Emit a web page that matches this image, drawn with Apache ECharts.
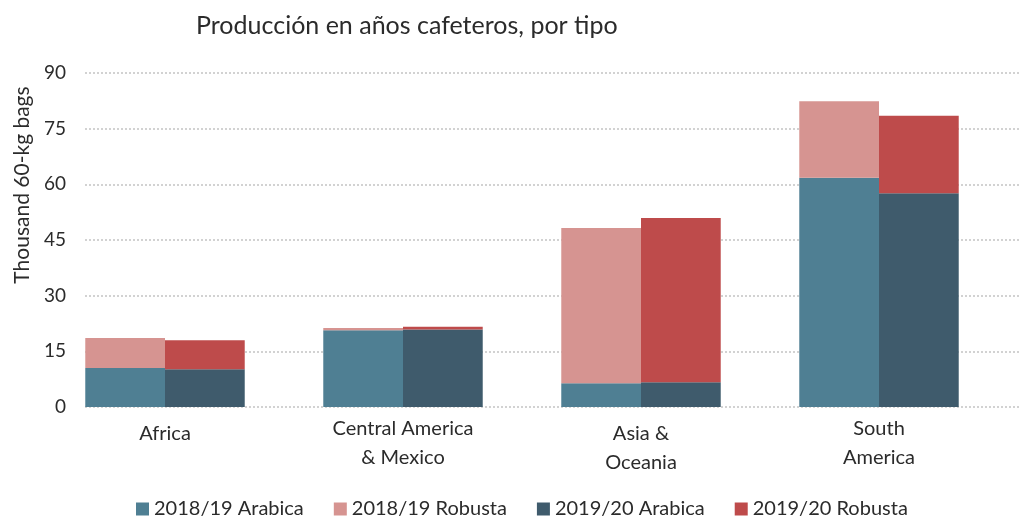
<!DOCTYPE html>
<html>
<head>
<meta charset="utf-8">
<script src="https://cdn.jsdelivr.net/npm/echarts@6/dist/echarts.min.js"></script>
<style>html,body{margin:0;padding:0;background:#fff}#c{width:1026px;height:520px}</style>
</head>
<body>
<div id="c"></div>
<script>
var categories = ['Africa', 'Central America\n& Mexico', 'Asia &\nOceania', 'South\nAmerica'];
var yTicks = [0, 15, 30, 45, 60, 75, 90];
var arabica1819 = [10.5, 20.7, 6.4, 61.8];
var robusta1819 = [8.1, 0.6, 41.8, 20.6];
var arabica1920 = [10.2, 20.9, 6.7, 57.6];
var robusta1920 = [7.8, 0.7, 44.2, 20.9];
var seriesNames = ['2018/19 Arabica', '2018/19 Robusta', '2019/20 Arabica', '2019/20 Robusta'];

var FONT = 'Lato';
var TXT = '#2b2b2b';
var chart = echarts.init(document.getElementById('c'), null, {renderer: 'canvas'});
chart.setOption({
  animation: false,
  textStyle: {fontFamily: FONT},
  title: {
    text: 'Producción en años cafeteros, por tipo',
    left: 191, top: 8,
    textStyle: {fontFamily: FONT, fontSize: 25, fontWeight: 'normal', color: TXT}
  },
  legend: {
    data: seriesNames,
    top: 494,
    left: 131,
    itemWidth: 13, itemHeight: 13, itemGap: 30,
    icon: 'rect',
    textStyle: {fontFamily: FONT, fontSize: 20, color: TXT}
  },
  graphic: [{
    type: 'text',
    x: 22, y: 185,
    rotation: Math.PI / 2,
    style: {text: 'Thousand 60-kg bags', fontFamily: FONT, fontSize: 21, fill: TXT, textAlign: 'center', textVerticalAlign: 'middle'}
  }],
  grid: [
    {left: 85, right: 6, top: 73, bottom: 113},
    {left: 46, right: 28, top: 73, bottom: 113}
  ],
  xAxis: [
    {gridIndex: 0, type: 'value', show: false, min: 0, max: 1},
    {
      gridIndex: 1, type: 'category', data: categories,
      axisLine: {show: false}, axisTick: {show: false},
      axisLabel: {
        fontFamily: FONT, fontSize: 20, color: TXT, margin: 7, lineHeight: 29,
        formatter: function (v, i) { return (i === 0 || i === 2) ? '{sp|}\n' + v : v; },
        rich: {sp: {height: 5, lineHeight: 5, fontSize: 1}}
      }
    }
  ],
  yAxis: [
    {
      gridIndex: 0, type: 'value', min: yTicks[0], max: yTicks[yTicks.length - 1], interval: 15,
      axisLine: {show: false}, axisTick: {show: false},
      axisLabel: {fontFamily: FONT, fontSize: 19, color: TXT, margin: 19},
      splitLine: {lineStyle: {color: '#c4c4c4', type: [2, 2], width: 1.5}}
    },
    {
      gridIndex: 1, type: 'value', min: 0, max: 90, interval: 15,
      axisLine: {show: false}, axisTick: {show: false}, axisLabel: {show: false}, splitLine: {show: false}
    }
  ],
  series: [
    {name: seriesNames[0], type: 'bar', stack: 'a', xAxisIndex: 1, yAxisIndex: 1, data: arabica1819,
     itemStyle: {color: '#4f7f93'}, barGap: '0%', barCategoryGap: '33%'},
    {name: seriesNames[1], type: 'bar', stack: 'a', xAxisIndex: 1, yAxisIndex: 1, data: robusta1819,
     itemStyle: {color: '#d69491'}},
    {name: seriesNames[2], type: 'bar', stack: 'b', xAxisIndex: 1, yAxisIndex: 1, data: arabica1920,
     itemStyle: {color: '#3f5b6c'}, barGap: '0%', barCategoryGap: '33%'},
    {name: seriesNames[3], type: 'bar', stack: 'b', xAxisIndex: 1, yAxisIndex: 1, data: robusta1920,
     itemStyle: {color: '#be4b4b'}}
  ]
});
</script>
</body>
</html>
